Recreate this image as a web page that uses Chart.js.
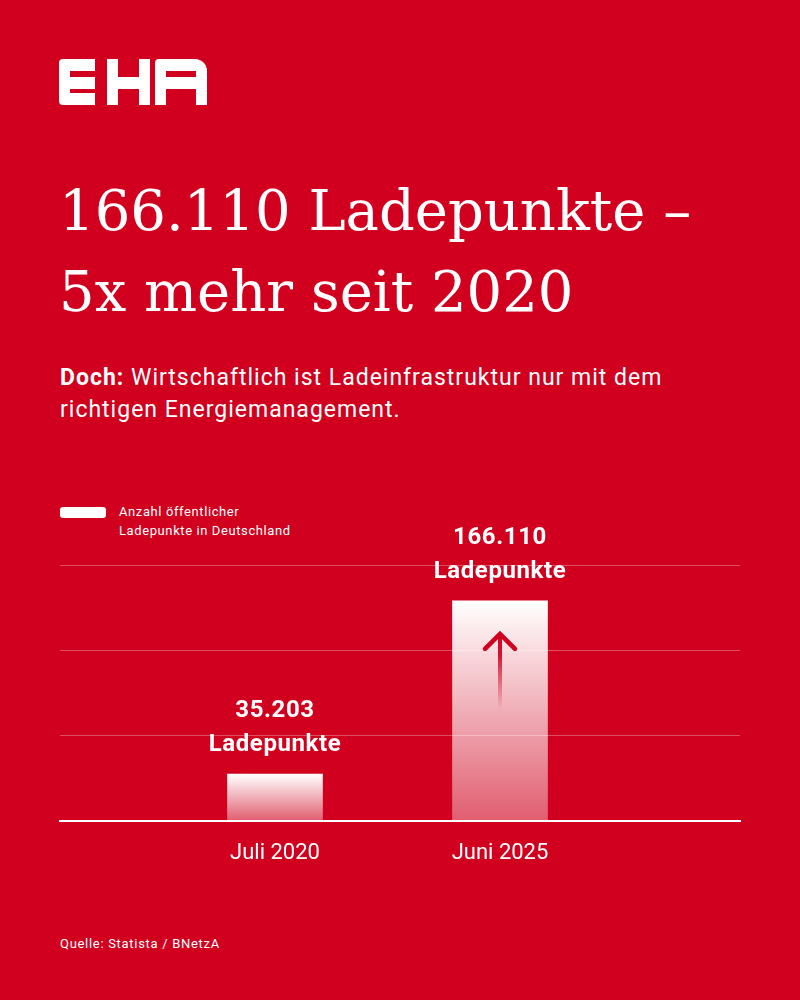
<!DOCTYPE html>
<html>
<head>
<meta charset="utf-8">
<script src="https://cdn.jsdelivr.net/npm/chart.js@4"></script>
<style>
  html,body{margin:0;padding:0;}
  body{width:800px;height:1000px;background:#d0001e;position:relative;overflow:hidden;font-family:Roboto,"Noto Sans",sans-serif;color:#fff;}
  #logo{position:absolute;left:0;top:0;}
  #title{position:absolute;left:59px;top:170px;margin:0;font-family:"DejaVu Serif",serif;font-weight:normal;font-size:56px;line-height:81px;letter-spacing:0px;}
  #sub{position:absolute;left:60px;top:362px;margin:0;font-size:23px;line-height:32px;letter-spacing:1px;}
  #legend{position:absolute;left:60px;top:502px;font-size:13px;line-height:19px;letter-spacing:0.6px;}
  #legend .sw{position:absolute;left:0;top:5px;width:46px;height:11px;border-radius:3px;background:#fff;}
  #legend .tx{position:absolute;left:59px;top:0;white-space:nowrap;}
  #src{position:absolute;left:60px;top:936px;font-size:13px;letter-spacing:0.7px;}
  #wrap{position:absolute;left:0;top:460px;width:800px;height:440px;}
</style>
</head>
<body>
<svg id="logo" width="800" height="140" xmlns="http://www.w3.org/2000/svg">
  <g fill="#fff">
    <path d="M63,59 H95 V71 H70 V77 H95 V89 H70 V93 H95 V105 H63 Q59,105 59,101 V63 Q59,59 63,59 Z"/>
    <path d="M107,59 H118 V77 H139 V59 H150 V105 H139 V89 H118 V105 H107 Z"/>
    <path fill-rule="evenodd" d="M155,105 V63 Q155,59 159,59 H195 A12,12 0 0 1 207,71 V105 H196 V89 H166 V105 Z M166,71 H196 V77 H166 Z"/>
  </g>
</svg>
<h1 id="title">166.110 Ladepunkte –<br>5x mehr seit 2020</h1>
<p id="sub"><b>Doch:</b> Wirtschaftlich ist Ladeinfrastruktur nur mit dem<br>richtigen Energiemanagement.</p>
<div id="legend"><div class="sw"></div><div class="tx" id="legendText"></div></div>
<div id="wrap"><canvas id="c" width="800" height="440"></canvas></div>
<div id="src">Quelle: Statista / BNetzA</div>
<script>
// ---- data ----
const categories = ["Juli 2020", "Juni 2025"];
const values = [35203, 166110];
const valueUnit = "Ladepunkte";
const seriesLabel = ["Anzahl öffentlicher", "Ladepunkte in Deutschland"];
const yMax = 193300;

document.getElementById('legendText').innerHTML = seriesLabel.join('<br>');

const BG = 'rgb(208,0,30)';

const labelPlugin = {
  id: 'barLabels',
  afterDatasetsDraw(chart) {
    const ctx = chart.ctx;
    const meta = chart.getDatasetMeta(0);
    ctx.save();
    ctx.fillStyle = '#fff';
    ctx.textAlign = 'center';
    ctx.textBaseline = 'middle';
    ctx.font = 'bold 24px Roboto, "Noto Sans", sans-serif';
    if ('letterSpacing' in ctx) ctx.letterSpacing = '0.6px';
    meta.data.forEach((bar, i) => {
      const txt = values[i].toLocaleString('de-DE');
      ctx.fillText(txt, bar.x, bar.y - 63);
      ctx.fillText(valueUnit, bar.x, bar.y - 29);
    });
    if ('letterSpacing' in ctx) ctx.letterSpacing = '0px';
    // arrow inside the last (largest) bar
    const last = meta.data[meta.data.length - 1];
    const cx = last.x, tip = last.y + 32;
    const g = ctx.createLinearGradient(0, tip, 0, tip + 76);
    g.addColorStop(0, 'rgba(208,0,30,1)');
    g.addColorStop(0.3, 'rgba(208,0,30,0.9)');
    g.addColorStop(1, 'rgba(208,0,30,0)');
    ctx.strokeStyle = g;
    ctx.lineWidth = 4;
    ctx.lineCap = 'butt';
    ctx.beginPath();
    ctx.moveTo(cx, tip + 2);
    ctx.lineTo(cx, tip + 76);
    ctx.stroke();
    ctx.strokeStyle = BG;
    ctx.lineWidth = 4.5;
    ctx.lineCap = 'round';
    ctx.lineJoin = 'miter';
    ctx.beginPath();
    ctx.moveTo(cx - 15, tip + 16);
    ctx.lineTo(cx, tip + 1);
    ctx.lineTo(cx + 15, tip + 16);
    ctx.stroke();
    ctx.restore();
  }
};

new Chart(document.getElementById('c'), {
  type: 'bar',
  data: {
    datasets: [{
      label: seriesLabel.join(' '),
      data: values.map((v, i) => ({ x: i + 1, y: v })),
      barThickness: 95,
      borderWidth: 0,
      backgroundColor: (c) => {
        const chart = c.chart;
        if (!chart.chartArea || c.parsed == null) return 'rgba(255,255,255,0.7)';
        const ys = chart.scales.y;
        const top = ys.getPixelForValue(c.parsed.y);
        const base = ys.getPixelForValue(0);
        const g = chart.ctx.createLinearGradient(0, top, 0, base);
        g.addColorStop(0, 'rgba(255,255,255,1)');
        g.addColorStop(1, 'rgba(255,255,255,0.37)');
        return g;
      }
    }]
  },
  options: {
    responsive: false,
    animation: false,
    layout: { padding: { left: 60, right: 60, top: 105, bottom: 13 } },
    plugins: { legend: { display: false }, tooltip: { enabled: false } },
    scales: {
      x: {
        type: 'linear',
        offset: false,
        min: 0.0444,
        max: 3.0667,
        grid: { display: false, drawTicks: false, offset: false },
        border: { display: true, color: '#fff', width: 2 },
        afterBuildTicks: (s) => { s.ticks = categories.map((c, i) => ({ value: i + 1 })); },
        ticks: {
          color: '#fff',
          font: { family: 'Roboto, "Noto Sans", sans-serif', size: 22 },
          padding: 20,
          autoSkip: false,
          maxRotation: 0,
          callback: (v) => categories[Math.round(v) - 1] || ''
        }
      },
      y: {
        min: 0,
        max: yMax,
        afterBuildTicks: (s) => { s.ticks = [0, 1, 2, 3].map(k => ({ value: yMax * k / 3 })); },
        ticks: { display: false },
        grid: { color: 'rgba(255,255,255,0.3)', lineWidth: 1, drawTicks: false },
        border: { display: false }
      }
    }
  },
  plugins: [labelPlugin]
});
</script>
</body>
</html>
